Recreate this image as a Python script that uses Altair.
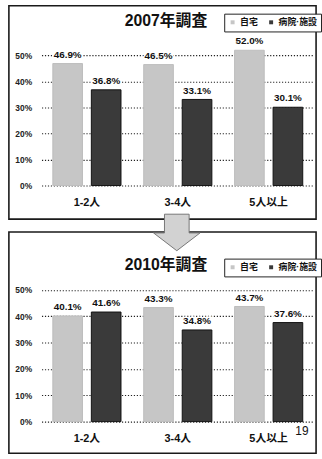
import altair as alt
import pandas as pd

# ---- data ----
categories = ["1-2人", "3-4人", "5人以上"]
series = ["自宅", "病院·施設"]
home_2007 = [46.9, 46.5, 52.0]
hosp_2007 = [36.8, 33.1, 30.1]
home_2010 = [40.1, 43.3, 43.7]
hosp_2010 = [41.6, 34.8, 37.6]
y_ticks = [0, 10, 20, 30, 40, 50]
titles = ["2007年調査", "2010年調査"]
page_no = "19"

FONT = "Liberation Sans, Arial, 'Noto Sans CJK JP', sans-serif"
LIGHT = "#c6c6c6"
DARK = "#3a3a3a"
W = 276
ARROW = "M-0.52,-0.77 L0.52,-0.77 L0.52,0.02 L0.98,0.02 L0,0.77 L-0.98,0.02 L-0.52,0.02 Z"


def one_row():
    return alt.Data(values=[{"k": 0}])


def panel(title, home, hosp, height, frame_top, frame_bottom, title_y, legend_y, extra=None):
    df = pd.DataFrame({
        "cat": categories * 2,
        "series": [series[0]] * 3 + [series[1]] * 3,
        "value": home + hosp,
    })
    df["label"] = df["value"].map(lambda v: f"{v:.1f}%")
    base = alt.Chart(df)

    x = alt.X("cat:N", sort=categories,
              scale=alt.Scale(paddingInner=0, paddingOuter=0),
              axis=alt.Axis(title=None, labelAngle=0, domain=False, ticks=False,
                            labelPadding=11, labelFontSize=11, labelColor="#111",
                            labelFontWeight="bold", labelFont=FONT))
    xo = alt.XOffset("series:N", sort=series,
                     scale=alt.Scale(paddingInner=0.23, paddingOuter=0.295))
    y = alt.Y("value:Q", scale=alt.Scale(domain=[0, 60], nice=False),
              axis=alt.Axis(title=None, values=y_ticks, labelExpr="datum.value + '%'",
                            domain=False, ticks=False, grid=True, gridDash=[1.2, 1.8],
                            gridColor="#222", gridWidth=1.1, labelPadding=10,
                            labelFontSize=8.5, labelColor="#222", labelFontWeight="bold",
                            labelFont=FONT))
    color = alt.Color("series:N", sort=series,
                      scale=alt.Scale(domain=series, range=[LIGHT, DARK]),
                      legend=alt.Legend(orient="none", legendX=185, legendY=legend_y,
                                        direction="horizontal", title=None,
                                        symbolType="square", symbolSize=16,
                                        symbolStrokeWidth=0, labelFontSize=9,
                                        labelFont=FONT, labelFontWeight="bold",
                                        labelColor="#111", strokeColor="#222",
                                        fillColor="white", padding=4,
                                        columnPadding=8, labelOffset=3))
    stroke = alt.Stroke("series:N", sort=series,
                        scale=alt.Scale(domain=series, range=["#bdbdbd", "#111"]),
                        legend=None)

    frame = alt.Chart(one_row()).mark_rect(fill="transparent", stroke="#1a1a1a", strokeWidth=1.6).encode(
        x=alt.value(-33), x2=alt.value(278), y=alt.value(frame_top), y2=alt.value(frame_bottom))
    bars = base.mark_bar(strokeWidth=1).encode(x=x, xOffset=xo, y=y, color=color, stroke=stroke)
    halo = base.mark_text(baseline="bottom", dy=-4, fontSize=10, fontWeight="bold", font=FONT,
                          stroke="white", strokeWidth=3).encode(
        x=x, xOffset=xo, y=y, text="label:N")
    labels = base.mark_text(baseline="bottom", dy=-4, fontSize=10, fontWeight="bold", font=FONT,
                            color="#111").encode(x=x, xOffset=xo, y=y, text="label:N")
    ttl = alt.Chart(one_row()).mark_text(text=title, fontSize=16, fontWeight="bold", font=FONT,
                                         align="center", baseline="middle", color="#111").encode(
        x=alt.value(126), y=alt.value(title_y))
    layers = [frame, bars, halo, labels, ttl]
    if extra:
        layers += extra
    return alt.layer(*layers).properties(width=W, height=height)


arrow = alt.Chart(one_row()).mark_point(shape=ARROW, size=2304, filled=True, fill="#d2d2d2",
                                        stroke="#777", strokeWidth=1, opacity=1).encode(
    x=alt.value(137), y=alt.value(-31.5))
page = alt.Chart(one_row()).mark_text(text=page_no, fontSize=12, font=FONT, color="#111",
                                      align="left", baseline="middle").encode(
    x=alt.value(257), y=alt.value(170))

top = panel(titles[0], home_2007, hosp_2007, 158, -24, 192, -9, -16)
bottom = panel(titles[1], home_2010, hosp_2010, 160, -32, 192, 2, -5, extra=[arrow, page])

chart = alt.vconcat(top, bottom, spacing=79, bounds="flush").resolve_scale(
    color="independent", stroke="independent"
).properties(
    padding={"left": 8, "top": 2, "right": 0, "bottom": 0},
    background="white",
).configure_view(stroke=None)

chart.save("out.html", embed_options={"renderer": "svg", "actions": False})
